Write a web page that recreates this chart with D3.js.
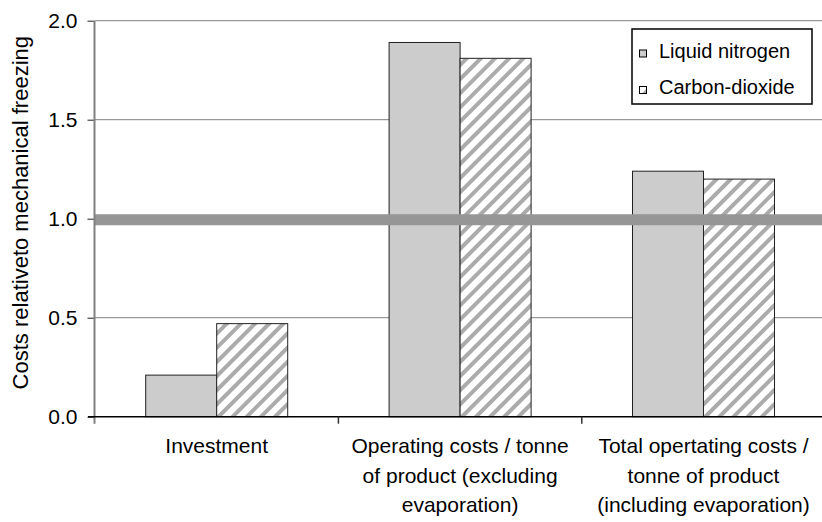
<!DOCTYPE html>
<html>
<head>
<meta charset="utf-8">
<script src="https://cdn.jsdelivr.net/npm/d3@7"></script>
<style>
  html, body { margin: 0; padding: 0; background: #fff; }
  svg { display: block; font-family: "Liberation Sans", Arial, sans-serif; }
</style>
</head>
<body>
<svg id="chart" width="822" height="522"></svg>
<script>
// Cost of cryogenic freezing relative to mechanical freezing (= 1.0)
const categories = [
  ["Investment"],
  ["Operating costs / tonne", "of product (excluding", "evaporation)"],
  ["Total opertating costs /", "tonne of product", "(including evaporation)"]
];
const seriesNames = ["Liquid nitrogen", "Carbon-dioxide"];
const liquidNitrogen = [0.21, 1.89, 1.24];
const carbonDioxide = [0.47, 1.81, 1.20];
const yTicks = [0, 0.5, 1.0, 1.5, 2.0];
const referenceLevel = 1.0;

const svg = d3.select("#chart");
const margin = { left: 95, top: 20.7, bottom: 416.7 };
const bandW = 243.4;

const x0 = d3.scaleBand()
  .domain(d3.range(categories.length))
  .range([margin.left, margin.left + bandW * categories.length])
  .paddingInner(0).paddingOuter(0);
const x1 = d3.scaleBand()
  .domain(seriesNames)
  .range([0, bandW])
  .paddingInner(0)
  .paddingOuter(0.714);
const y = d3.scaleLinear().domain([0, 2]).range([margin.bottom, margin.top]);

// hatch pattern for the carbon-dioxide bars
const defs = svg.append("defs");
const pat = defs.append("pattern")
  .attr("id", "hatch")
  .attr("patternUnits", "userSpaceOnUse")
  .attr("width", 10).attr("height", 10)
  .attr("patternTransform", "rotate(45)");
pat.append("rect").attr("width", 10).attr("height", 10).attr("fill", "#fff");
pat.append("rect").attr("x", 0).attr("y", 0).attr("width", 4).attr("height", 10).attr("fill", "#ababab");

const fills = ["#cccccc", "url(#hatch)"];
const series = [liquidNitrogen, carbonDioxide];

// gridlines
svg.append("g")
  .selectAll("line")
  .data(yTicks.filter(d => d > 0))
  .join("line")
  .attr("x1", margin.left).attr("x2", 822)
  .attr("y1", d => y(d)).attr("y2", d => y(d))
  .attr("stroke", "#808080").attr("stroke-width", 1);

// bars
const groups = svg.append("g")
  .selectAll("g")
  .data(categories.map((c, i) => i))
  .join("g")
  .attr("transform", i => `translate(${x0(i)},0)`);
groups.selectAll("rect")
  .data(i => seriesNames.map((s, k) => ({ s, k, v: series[k][i] })))
  .join("rect")
  .attr("x", d => x1(d.s))
  .attr("width", x1.bandwidth())
  .attr("y", d => y(d.v))
  .attr("height", d => y(0) - y(d.v))
  .attr("fill", d => fills[d.k])
  .attr("stroke", "#222")
  .attr("stroke-width", 1);

// reference line for mechanical freezing
svg.append("line")
  .attr("x1", margin.left).attr("x2", 822)
  .attr("y1", y(referenceLevel) + 1).attr("y2", y(referenceLevel) + 1)
  .attr("stroke", "#969696").attr("stroke-width", 11);

// y axis
const yAxis = d3.axisLeft(y).tickValues(yTicks).tickFormat(d3.format(".1f")).tickSize(7).tickPadding(10);
const gy = svg.append("g").attr("transform", `translate(${margin.left - 0.5},0)`).call(yAxis);
gy.select(".domain").remove();
gy.selectAll(".tick line").attr("stroke", "#222");
gy.selectAll("text").attr("font-size", 21).attr("fill", "#000").attr("font-family", "Liberation Sans, Arial, sans-serif");
svg.append("line")
  .attr("x1", margin.left - 0.5).attr("x2", margin.left - 0.5)
  .attr("y1", margin.top).attr("y2", margin.bottom + 7)
  .attr("stroke", "#808080").attr("stroke-width", 2);

// x axis
svg.append("line")
  .attr("x1", margin.left - 7).attr("x2", 822)
  .attr("y1", y(0)).attr("y2", y(0))
  .attr("stroke", "#000").attr("stroke-width", 1.5);
svg.append("g")
  .selectAll("line")
  .data(d3.range(1, categories.length))
  .join("line")
  .attr("x1", i => x0(i)).attr("x2", i => x0(i))
  .attr("y1", y(0)).attr("y2", y(0) + 7)
  .attr("stroke", "#333").attr("stroke-width", 1.5);

const lineY = [453, 483, 512];
svg.append("g")
  .selectAll("text")
  .data(categories.map((c, i) => ({ c, i })))
  .join("text")
  .attr("text-anchor", "middle")
  .attr("font-size", 21)
  .attr("fill", "#000")
  .each(function(d) {
    d3.select(this).selectAll("tspan")
      .data(d.c)
      .join("tspan")
      .attr("x", x0(d.i) + bandW / 2)
      .attr("y", (t, j) => lineY[j])
      .text(t => t);
  });

// y axis title
svg.append("text")
  .attr("transform", `translate(28,${(margin.top + margin.bottom) / 2 - 6}) rotate(-90)`)
  .attr("text-anchor", "middle")
  .attr("font-size", 22)
  .attr("fill", "#000")
  .text("Costs relativeto mechanical freezing");

// legend
const lg = svg.append("g");
lg.append("rect")
  .attr("x", 632).attr("y", 29).attr("width", 180).attr("height", 75)
  .attr("fill", "#fff").attr("stroke", "#000").attr("stroke-width", 1.5);
const legendRows = [57.5, 94];
seriesNames.forEach((s, k) => {
  lg.append("rect")
    .attr("x", 639.5).attr("y", legendRows[k] - 7.5).attr("width", 7).attr("height", 7)
    .attr("fill", fills[k]).attr("stroke", "#000").attr("stroke-width", 1);
  lg.append("text")
    .attr("x", 659).attr("y", legendRows[k])
    .attr("font-size", 20).attr("fill", "#000")
    .text(s);
});
</script>
</body>
</html>
